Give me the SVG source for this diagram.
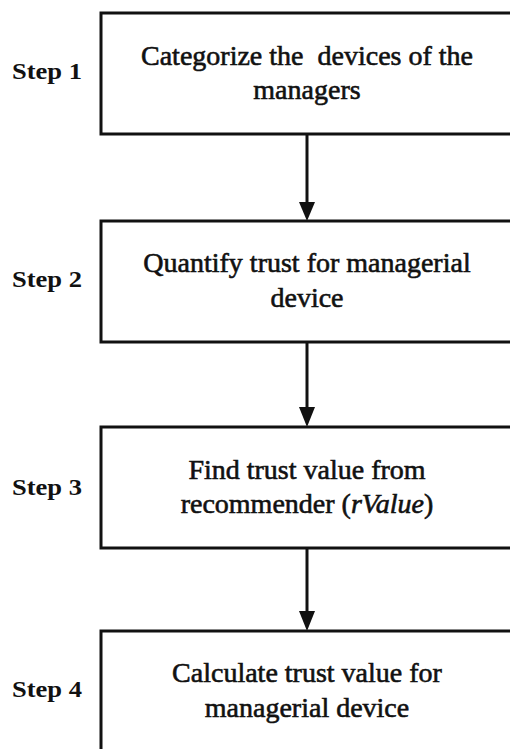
<svg xmlns="http://www.w3.org/2000/svg" width="510" height="749" viewBox="0 0 510 749">
<defs>
<style>
.box{fill:#fff;stroke:#111;stroke-width:3}
.t{font-family:"Liberation Serif","Times New Roman",serif;font-size:28px;fill:#111;stroke:#111;stroke-width:0.6;text-anchor:middle}
.s{font-family:"Liberation Serif","Times New Roman",serif;font-size:23px;font-weight:bold;fill:#111}
.c{stroke:#111;stroke-width:3;fill:none}
.ah{fill:#111}
</style>
</defs>
<rect width="510" height="749" fill="#fff"/>
<g id="connectors">
<line class="c" x1="307" y1="134" x2="307" y2="205"/>
<path class="ah" d="M299,202 L315,202 L307,221 Z"/>
<line class="c" x1="307" y1="342" x2="307" y2="410"/>
<path class="ah" d="M299,407 L315,407 L307,427 Z"/>
<line class="c" x1="307" y1="548" x2="307" y2="614"/>
<path class="ah" d="M299,611 L315,611 L307,631 Z"/>
</g>
<g id="step1">
<text class="s" x="12" y="79" textLength="70" lengthAdjust="spacingAndGlyphs">Step 1</text>
<rect class="box" x="101" y="13" width="412" height="121"/>
<text class="t" x="307" y="65" xml:space="preserve">Categorize the  devices of the</text>
<text class="t" x="307" y="99">managers</text>
</g>
<g id="step2">
<text class="s" x="12" y="287" textLength="70" lengthAdjust="spacingAndGlyphs">Step 2</text>
<rect class="box" x="101" y="221" width="412" height="121"/>
<text class="t" x="307" y="272">Quantify trust for managerial</text>
<text class="t" x="307" y="307">device</text>
</g>
<g id="step3">
<text class="s" x="12" y="495" textLength="70" lengthAdjust="spacingAndGlyphs">Step 3</text>
<rect class="box" x="101" y="427" width="412" height="121"/>
<text class="t" x="307" y="479">Find trust value from</text>
<text class="t" x="307" y="513">recommender (<tspan font-style="italic">rValue</tspan>)</text>
</g>
<g id="step4">
<text class="s" x="12" y="697" textLength="70" lengthAdjust="spacingAndGlyphs">Step 4</text>
<rect class="box" x="101" y="631" width="412" height="130"/>
<text class="t" x="307" y="682">Calculate trust value for</text>
<text class="t" x="307" y="717">managerial device</text>
</g>
</svg>
